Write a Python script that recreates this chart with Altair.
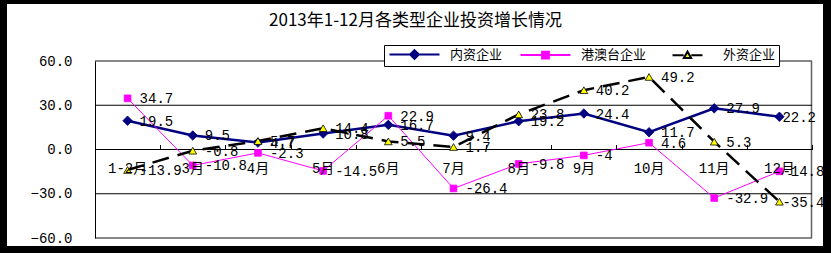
import altair as alt
import pandas as pd

# ---------------- data ----------------
categories = ["1-2月", "3月", "4月", "5月", "6月", "7月", "8月", "9月", "10月", "11月", "12月"]
domestic = [19.5, 9.5, 4.7, 10.8, 16.7, 9.4, 19.2, 24.4, 11.7, 27.9, 22.2]
hkmt = [34.7, -10.8, -2.3, -14.5, 22.9, -26.4, -9.8, -4, 4.6, -32.9, -14.8]
foreign = [-13.9, -0.8, 5.7, 14.4, 5.5, 1.7, 23.8, 40.2, 49.2, 5.3, -35.4]
series_names = ["内资企业", "港澳台企业", "外资企业"]
y_ticks = [-60, -30, 0, 30, 60]
grid_values = [-30, 0, 30]
border_values = [-60, 60]
title_text = "2013年1-12月各类型企业投资增长情况"

rows = []
for name, vals in zip(series_names, [domestic, hkmt, foreign]):
    for c, v in zip(categories, vals):
        rows.append({"cat": c, "value": v, "series": name, "label": "%g" % v})
df = pd.DataFrame(rows)
grid_df = pd.DataFrame({"g": grid_values})
border_df = pd.DataFrame({"b": border_values})

# ---------------- styles ----------------
W, H = 717, 177
MONO = '"Liberation Mono", "Noto Sans CJK SC"'
CJK = "Noto Sans CJK SC"
line_colors = ["#000080", "#FF00FF", "#000000"]
fill_colors = ["#000080", "#FF00FF", "#FFFF00"]
line_widths = [2.5, 1, 2.5]
dashes = [None, None, [17, 9]]
shapes = ["diamond", "square", "triangle-up"]
sizes = [90, 45, 60]
legend_paths = [
    "M-1,0L11.5,0M5.25,-1.1L6.35,0L5.25,1.1L4.15,0Z",
    "M-1,0L11.5,0M4.4,-0.85L6.1,-0.85L6.1,0.85L4.4,0.85Z",
    "M1.5,0L4.3,0M6.2,0L9,0M4.35,0.7L6.15,0.7L5.25,-0.9Z",
]

x_scale = alt.Scale(type="band", domain=categories, paddingInner=0, paddingOuter=0)
y_scale = alt.Scale(domain=[-60, 60], nice=False, zero=False)
zero_offset = -H / 2.0

x_label_axis = alt.Axis(orient="bottom", offset=zero_offset, domain=False, ticks=False,
                        labelPadding=12, labelFont=MONO, labelFontSize=14, labelColor="black",
                        labelAngle=0, grid=False, title=None, zindex=1)
x_tick_axis = alt.Axis(orient="top", offset=zero_offset, domain=False, labels=False,
                       ticks=True, tickSize=5, tickBand="extent", tickColor="black",
                       grid=False, title=None, zindex=1)
y_axis = alt.Axis(values=y_ticks, format=".1f", grid=False, ticks=False, domainColor="black",
                  labelPadding=23, labelFont=MONO, labelFontSize=14, labelColor="black",
                  title=None, zindex=1)

# background panel (decoration)
one = pd.DataFrame({"k": [0]})
bg = alt.Chart(one).mark_rect(color="white").encode(
    x=alt.value(-88), x2=alt.value(728), y=alt.value(-57), y2=alt.value(185)
)
right_border = alt.Chart(one).mark_rule(color="#606060", strokeWidth=1.5).encode(
    x=alt.value(W - 0.5), y=alt.value(0), y2=alt.value(H)
)
hborders = alt.Chart(border_df).mark_rule(color="#606060", strokeWidth=1.5).encode(
    y=alt.Y("b:Q", scale=y_scale, axis=y_axis)
)
grid = alt.Chart(grid_df).mark_rule(color="black", strokeWidth=1).encode(
    y=alt.Y("g:Q", scale=y_scale, axis=y_axis)
)

layers = [bg, right_border, hborders, grid]
for i, name in enumerate(series_names):
    sub = alt.Chart(df).transform_filter(alt.datum.series == name)
    line_kw = dict(color=line_colors[i], strokeWidth=line_widths[i])
    if dashes[i]:
        line_kw["strokeDash"] = dashes[i]
    if i == 0:
        xa = x_label_axis
    elif i == 1:
        xa = x_tick_axis
    else:
        xa = None
    layers.append(sub.mark_line(**line_kw).encode(
        x=alt.X("cat:N", sort=categories, scale=x_scale, axis=xa),
        y=alt.Y("value:Q", scale=y_scale, axis=y_axis),
    ))
for i, name in enumerate(series_names):
    sub = alt.Chart(df).transform_filter(alt.datum.series == name)
    layers.append(sub.mark_point(shape=shapes[i], filled=True, size=sizes[i], opacity=1,
                                 fill=fill_colors[i], stroke=line_colors[i],
                                 strokeWidth=0.8).encode(
        x=alt.X("cat:N", sort=categories, scale=x_scale, axis=None),
        y=alt.Y("value:Q", scale=y_scale, axis=y_axis),
    ))
last_cat = categories[-1]
for i, name in enumerate(series_names):
    for is_last in (False, True):
        cond = (alt.datum.series == name) & ((alt.datum.cat == last_cat) if is_last else (alt.datum.cat != last_cat))
        sub = alt.Chart(df).transform_filter(cond)
        layers.append(sub.mark_text(align="left", baseline="middle", dx=3 if is_last else 12, dy=1,
                                    font=MONO, fontSize=14, color="black").encode(
            x=alt.X("cat:N", sort=categories, scale=x_scale, axis=None),
            y=alt.Y("value:Q", scale=y_scale, axis=y_axis),
            text="label:N",
        ))

leg = alt.Legend(title=None, orient="none", legendX=289, legendY=-16, direction="horizontal",
                 symbolSize=64, symbolStrokeWidth=2, labelOffset=50, columnPadding=13,
                 padding=3, strokeColor="black", fillColor="white", labelFont=CJK,
                 labelFontSize=13, labelColor="black", labelLimit=300, cornerRadius=0)
legend_layer = alt.Chart(df).transform_filter("false").mark_point(
    filled=True, size=64, opacity=1
).encode(
    shape=alt.Shape("series:N", scale=alt.Scale(domain=series_names, range=legend_paths), legend=leg),
    fill=alt.Fill("series:N", scale=alt.Scale(domain=series_names, range=fill_colors), legend=leg),
    stroke=alt.Stroke("series:N", scale=alt.Scale(domain=series_names, range=line_colors), legend=leg),
)
layers.append(legend_layer)

chart = alt.layer(*layers).resolve_axis(x="independent").properties(
    width=W, height=H,
    autosize=alt.AutoSizeParams(type="none"),
    padding={"left": 95, "top": 61, "right": 19, "bottom": 15},
    background="black",
    title=alt.TitleParams(text=title_text, font=CJK, fontSize=17, fontWeight="normal",
                          color="black", anchor="middle", dx=-38, offset=-26),
).configure_view(stroke=None)

chart.save("out.html", embed_options={"renderer": "svg", "actions": False})
